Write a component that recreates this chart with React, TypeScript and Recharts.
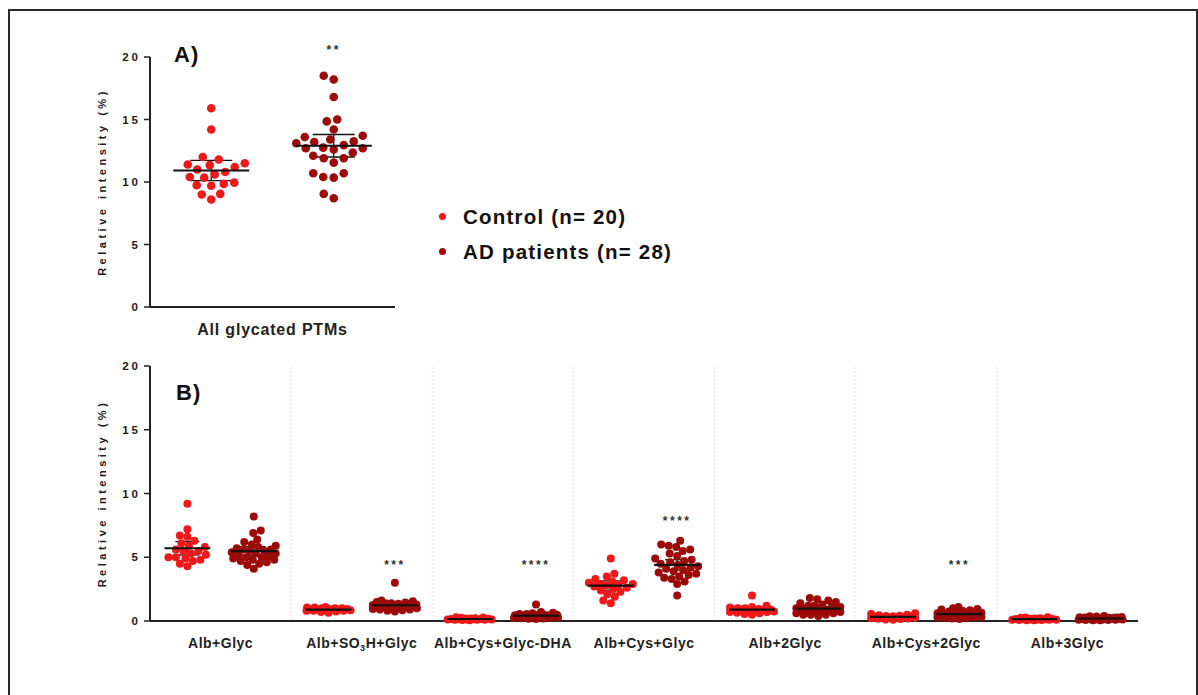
import React from 'react';
import { ScatterChart, Scatter, XAxis, YAxis, ReferenceLine, ReferenceDot, Legend, ErrorBar } from 'recharts';

// ---------- data ----------
const seriesNames = ['Control (n= 20)', 'AD patients (n= 28)'];
const seriesColors = ['#F01818', '#9C0A0A'];

const panelACategory = 'All glycated PTMs';
const panelAControl = [15.9, 14.2, 12.0, 11.8, 11.5, 11.4, 11.35, 11.2, 11.0, 10.8, 10.6, 10.4, 10.35, 9.95, 9.85, 9.75, 9.7, 9.05, 9.0, 8.6];
const panelAAD = [18.5, 18.2, 16.8, 15.0, 14.85, 14.2, 13.7, 13.6, 13.4, 13.25, 13.2, 13.1, 12.95, 12.75, 12.7, 12.7, 12.6, 12.35, 12.1, 11.9, 11.9, 11.55, 10.7, 10.7, 10.4, 10.35, 9.05, 8.7];
const panelAStars = '**';
const panelAStarY = 20.8;

const panelBCategories = ['Alb+Glyc', 'Alb+SO3H+Glyc', 'Alb+Cys+Glyc-DHA', 'Alb+Cys+Glyc', 'Alb+2Glyc', 'Alb+Cys+2Glyc', 'Alb+3Glyc'];
const panelBControl: number[][] = [
  [9.2, 7.2, 6.7, 6.6, 6.3, 6.1, 5.9, 5.8, 5.6, 5.5, 5.5, 5.3, 5.2, 5.0, 5.0, 4.9, 4.8, 4.7, 4.5, 4.3],
  [1.1, 1.05, 1.05, 1.0, 1.0, 1.0, 0.95, 0.95, 0.9, 0.9, 0.9, 0.9, 0.85, 0.85, 0.8, 0.8, 0.8, 0.75, 0.7, 0.65],
  [0.3, 0.28, 0.25, 0.22, 0.2, 0.2, 0.18, 0.17, 0.15, 0.15, 0.14, 0.13, 0.12, 0.12, 0.11, 0.1, 0.1, 0.09, 0.08, 0.06],
  [4.9, 3.7, 3.5, 3.3, 3.2, 3.1, 3.0, 2.9, 2.9, 2.8, 2.8, 2.7, 2.6, 2.5, 2.4, 2.3, 2.1, 1.9, 1.6, 1.4],
  [2.0, 1.2, 1.1, 1.05, 1.0, 1.0, 0.95, 0.9, 0.9, 0.85, 0.85, 0.8, 0.8, 0.75, 0.7, 0.7, 0.65, 0.6, 0.55, 0.5],
  [0.6, 0.55, 0.5, 0.45, 0.42, 0.4, 0.38, 0.35, 0.33, 0.3, 0.3, 0.28, 0.26, 0.25, 0.22, 0.2, 0.18, 0.15, 0.12, 0.1],
  [0.3, 0.28, 0.25, 0.22, 0.2, 0.18, 0.17, 0.16, 0.15, 0.14, 0.13, 0.12, 0.11, 0.1, 0.1, 0.09, 0.08, 0.07, 0.06, 0.05],
];
const panelBAD: number[][] = [
  [8.2, 7.1, 6.9, 6.4, 6.2, 6.0, 5.9, 5.8, 5.7, 5.6, 5.6, 5.5, 5.5, 5.4, 5.3, 5.3, 5.2, 5.1, 5.0, 5.0, 4.9, 4.8, 4.8, 4.7, 4.6, 4.5, 4.4, 4.1],
  [3.0, 1.6, 1.55, 1.5, 1.45, 1.4, 1.4, 1.35, 1.3, 1.3, 1.25, 1.25, 1.2, 1.2, 1.2, 1.15, 1.1, 1.1, 1.1, 1.05, 1.0, 1.0, 0.95, 0.9, 0.9, 0.85, 0.8, 0.75],
  [1.3, 0.7, 0.65, 0.6, 0.55, 0.55, 0.5, 0.5, 0.48, 0.45, 0.45, 0.42, 0.4, 0.4, 0.38, 0.36, 0.35, 0.33, 0.32, 0.3, 0.3, 0.28, 0.26, 0.25, 0.22, 0.2, 0.18, 0.15],
  [6.3, 6.0, 5.9, 5.8, 5.6, 5.5, 5.3, 5.1, 4.9, 4.8, 4.7, 4.6, 4.5, 4.4, 4.3, 4.2, 4.1, 4.0, 3.9, 3.8, 3.7, 3.6, 3.5, 3.4, 3.3, 3.1, 2.9, 2.0],
  [1.8, 1.7, 1.6, 1.5, 1.4, 1.3, 1.2, 1.2, 1.1, 1.1, 1.0, 1.0, 1.0, 0.9, 0.9, 0.9, 0.8, 0.8, 0.8, 0.7, 0.7, 0.7, 0.6, 0.6, 0.5, 0.5, 0.5, 0.4],
  [1.1, 1.0, 0.95, 0.9, 0.85, 0.8, 0.75, 0.7, 0.65, 0.6, 0.6, 0.55, 0.55, 0.5, 0.5, 0.48, 0.45, 0.42, 0.4, 0.38, 0.35, 0.32, 0.3, 0.28, 0.25, 0.22, 0.2, 0.15],
  [0.4, 0.38, 0.35, 0.32, 0.3, 0.28, 0.27, 0.26, 0.25, 0.24, 0.22, 0.2, 0.2, 0.19, 0.18, 0.17, 0.16, 0.15, 0.14, 0.13, 0.12, 0.11, 0.1, 0.09, 0.08, 0.07, 0.06, 0.05],
];
const panelBStars = ['', '***', '****', '****', '', '***', ''];
const panelBStarY = [0, 4.6, 4.6, 8.1, 0, 4.6, 0];

const yTicks = [0, 5, 10, 15, 20];
const yLabel = 'Relative intensity (%)';

// ---------- helpers ----------
const FONT = '"Liberation Sans", Arial, Helvetica, sans-serif';
const AXIS = '#222';

function ci(vals: number[]) {
  const n = vals.length;
  const mean = vals.reduce((a, b) => a + b, 0) / n;
  const sd = Math.sqrt(vals.reduce((a, b) => a + (b - mean) * (b - mean), 0) / (n - 1));
  const half = (1.96 + 2.4 / (n - 1)) * sd / Math.sqrt(n);
  return { mean, half };
}

// beeswarm layout in pixel space (computed from values)
function swarm(values: number[], pxPerY: number, diam: number, maxHalf: number): number[] {
  const idx = values.map((_, i) => i).sort((a, b) => values[a] - values[b]);
  const placed: { x: number; y: number }[] = [];
  const out = new Array(values.length).fill(0);
  let flip = 1;
  for (const i of idx) {
    const y = values[i] * pxPerY;
    let best = 0;
    let bestD = -1;
    let found = false;
    for (let s = 0; s <= maxHalf && !found; s += 0.5) {
      const signs = s === 0 ? [1] : [flip, -flip];
      for (const sg of signs) {
        const x = s * sg;
        let md = Infinity;
        for (const p of placed) {
          const d = Math.hypot(p.x - x, p.y - y);
          if (d < md) md = d;
        }
        if (md >= diam) { best = x; found = true; break; }
        if (md > bestD) { bestD = md; best = x; }
      }
    }
    flip = -flip;
    placed.push({ x: best, y });
    out[i] = best;
  }
  return out;
}

function toPoints(values: number[], center: number, pxPerX: number, pxPerY: number, diam: number, maxHalf: number) {
  const offs = swarm(values, pxPerY, diam, maxHalf);
  return values.map((v, i) => ({ x: center + offs[i] / pxPerX, y: v }));
}

function summaryPoint(vals: number[], cx: number) {
  const { mean, half } = ci(vals);
  return { x: cx, y: mean, err: half };
}

const dotShape = (color: string, r: number) => (props: any) => (
  <circle cx={props.cx} cy={props.cy} r={r} fill={color} />
);

const meanShape = (halfPx: number) => (props: any) => (
  <line x1={props.cx - halfPx} x2={props.cx + halfPx} y1={props.cy} y2={props.cy} stroke="#111" strokeWidth={2.2} />
);

const starShape = (text: string) => (props: any) => (
  <text x={props.cx} y={props.cy + 7} textAnchor="middle" fontSize={12} fontWeight="bold" fill="#333"
    letterSpacing={2.5} fontFamily={FONT}>{text}</text>
);

const yTickStyle = { fontSize: 11.5, fontWeight: 'bold', fill: '#222', letterSpacing: 3, fontFamily: FONT } as any;
const yLabelProps = {
  value: yLabel, angle: -90, position: 'center' as const, dx: -13,
  style: { fontSize: 11, fontWeight: 'bold', fill: '#1a1a1a', letterSpacing: 3.5, fontFamily: FONT, textAnchor: 'middle' },
};

// ---------- panel A geometry ----------
const A_W = 700, A_H = 345;
const A_PX_X = 245 / 2, A_PX_Y = 250 / 20;
const aCtrlPts = toPoints(panelAControl, 0.5, A_PX_X, A_PX_Y, 10.5, 40);
const aADPts = toPoints(panelAAD, 1.5, A_PX_X, A_PX_Y, 10.5, 40);
const aSummary = [summaryPoint(panelAControl, 0.5), summaryPoint(panelAAD, 1.5)];

// ---------- panel B geometry ----------
const B_W = 1198, B_H = 355;
const B_PX_X = 988 / 7, B_PX_Y = 255 / 20;
const B_OFF = 0.235;
const bCtrlPts = panelBControl.flatMap((vals, g) => toPoints(vals, g + 0.5 - B_OFF, B_PX_X, B_PX_Y, 7.5, 22));
const bADPts = panelBAD.flatMap((vals, g) => toPoints(vals, g + 0.5 + B_OFF, B_PX_X, B_PX_Y, 7.5, 22));
const bSummary = [
  ...panelBControl.map((vals, g) => summaryPoint(vals, g + 0.5 - B_OFF)),
  ...panelBAD.map((vals, g) => summaryPoint(vals, g + 0.5 + B_OFF)),
];
const bTicks = panelBCategories.map((_, i) => i + 0.5);

const LegendContent = () => (
  <div style={{ fontFamily: FONT }}>
    {seriesNames.map((n, i) => (
      <div key={n} style={{ display: 'flex', alignItems: 'center', height: 35 }}>
        <span style={{ width: 7, height: 7, borderRadius: '50%', background: seriesColors[i], display: 'inline-block', marginRight: 17 }} />
        <span style={{ fontSize: 20.5, fontWeight: 'bold', color: '#111', letterSpacing: 1.2, whiteSpace: 'nowrap' }}>{n}</span>
      </div>
    ))}
  </div>
);

const BTick = (props: any) => {
  const { x, y, payload } = props;
  const label = panelBCategories[Math.round(payload.value - 0.5)] || '';
  const style = { fontSize: 14, fontWeight: 'bold' as const, fill: '#222', fontFamily: FONT, letterSpacing: 0.5 };
  if (label.includes('SO3H')) {
    const [a, b] = label.split('SO3H');
    return (
      <text x={x} y={y} dy="0.72em" textAnchor="middle" {...style}>
        {a}SO<tspan fontSize={9} dy={3}>3</tspan><tspan dy={-3}>H{b}</tspan>
      </text>
    );
  }
  return <text x={x} y={y} dy="0.72em" textAnchor="middle" {...style}>{label}</text>;
};

export default function App() {
  return (
    <div style={{ position: 'absolute', left: 0, top: 0, width: 1198, height: 695, background: '#fff', overflow: 'hidden' }}>
      <div style={{ position: 'absolute', left: 8, top: 9, width: 1186, height: 760, borderTop: '2px solid #2a2a2a', borderLeft: '2px solid #2a2a2a', borderRight: '2px solid #2a2a2a' }} />

      <div style={{ position: 'absolute', left: 0, top: 0 }}>
        <ScatterChart width={A_W} height={A_H} margin={{ top: 57, left: 80, right: A_W - 395, bottom: 8 }}>
          <XAxis type="number" dataKey="x" domain={[0, 2]} ticks={[0.5, 1.5]} tick={false} tickSize={5}
            axisLine={{ stroke: AXIS, strokeWidth: 2 }} tickLine={{ stroke: AXIS, strokeWidth: 1.2 }} height={30}
            label={{ value: panelACategory, position: 'insideBottom', offset: 2, style: { fontSize: 16, fontWeight: 'bold', fill: '#222', letterSpacing: 0.8, fontFamily: FONT } }} />
          <YAxis type="number" dataKey="y" domain={[0, 20]} ticks={yTicks} width={70} tickSize={6} tickMargin={3}
            axisLine={{ stroke: AXIS, strokeWidth: 2 }} tickLine={{ stroke: AXIS, strokeWidth: 1.5 }}
            tick={yTickStyle} label={yLabelProps} />
          <Scatter name={seriesNames[0]} data={aCtrlPts} fill={seriesColors[0]} shape={dotShape(seriesColors[0], 4.3)} isAnimationActive={false} />
          <Scatter name={seriesNames[1]} data={aADPts} fill={seriesColors[1]} shape={dotShape(seriesColors[1], 4.3)} isAnimationActive={false} />
          <Scatter name="mean" legendType="none" data={aSummary} fill="#111" shape={meanShape(38)} isAnimationActive={false}>
            <ErrorBar dataKey="err" direction="y" width={21} stroke="#111" strokeWidth={1.3} />
          </Scatter>
          <ReferenceDot x={1.5} y={panelAStarY} r={0} ifOverflow="visible" shape={starShape(panelAStars)} />
          <text x={174} y={62} fontSize={22} fontWeight="bold" fill="#111" fontFamily={FONT} letterSpacing={1}>A)</text>
          <Legend layout="vertical" align="center" verticalAlign="middle" content={<LegendContent />}
            wrapperStyle={{ left: 439, top: 199, width: 260, height: 70 }} />
        </ScatterChart>
      </div>

      <div style={{ position: 'absolute', left: 0, top: 340 }}>
        <ScatterChart width={B_W} height={B_H} margin={{ top: 26, left: 80, right: 60, bottom: 34 }}>
          <XAxis type="number" dataKey="x" domain={[0, 7]} ticks={bTicks} tick={<BTick />} tickLine={false} tickSize={0} tickMargin={17}
            axisLine={{ stroke: AXIS, strokeWidth: 2 }} height={40} interval={0} />
          <YAxis type="number" dataKey="y" domain={[0, 20]} ticks={yTicks} width={70} tickSize={6} tickMargin={3}
            axisLine={{ stroke: AXIS, strokeWidth: 2 }} tickLine={{ stroke: AXIS, strokeWidth: 1.5 }}
            tick={yTickStyle} label={yLabelProps} />
          {[1, 2, 3, 4, 5, 6].map((b) => (
            <ReferenceLine key={'sep' + b} x={b} stroke="#e2e2e2" strokeDasharray="2 2" strokeWidth={1} />
          ))}
          <Scatter name={seriesNames[0]} data={bCtrlPts} fill={seriesColors[0]} shape={dotShape(seriesColors[0], 4)} isAnimationActive={false} />
          <Scatter name={seriesNames[1]} data={bADPts} fill={seriesColors[1]} shape={dotShape(seriesColors[1], 4)} isAnimationActive={false} />
          <Scatter name="mean" legendType="none" data={bSummary} fill="#111" shape={meanShape(23)} isAnimationActive={false}>
            <ErrorBar dataKey="err" direction="y" width={12} stroke="#111" strokeWidth={1.3} />
          </Scatter>
          {panelBStars.map((s, g) => s ? (
            <ReferenceDot key={'st' + g} x={g + 0.5 + B_OFF} y={panelBStarY[g]} r={0} ifOverflow="visible" shape={starShape(s)} />
          ) : null)}
          <text x={176} y={60} fontSize={22} fontWeight="bold" fill="#111" fontFamily={FONT} letterSpacing={1}>B)</text>
        </ScatterChart>
      </div>
    </div>
  );
}
